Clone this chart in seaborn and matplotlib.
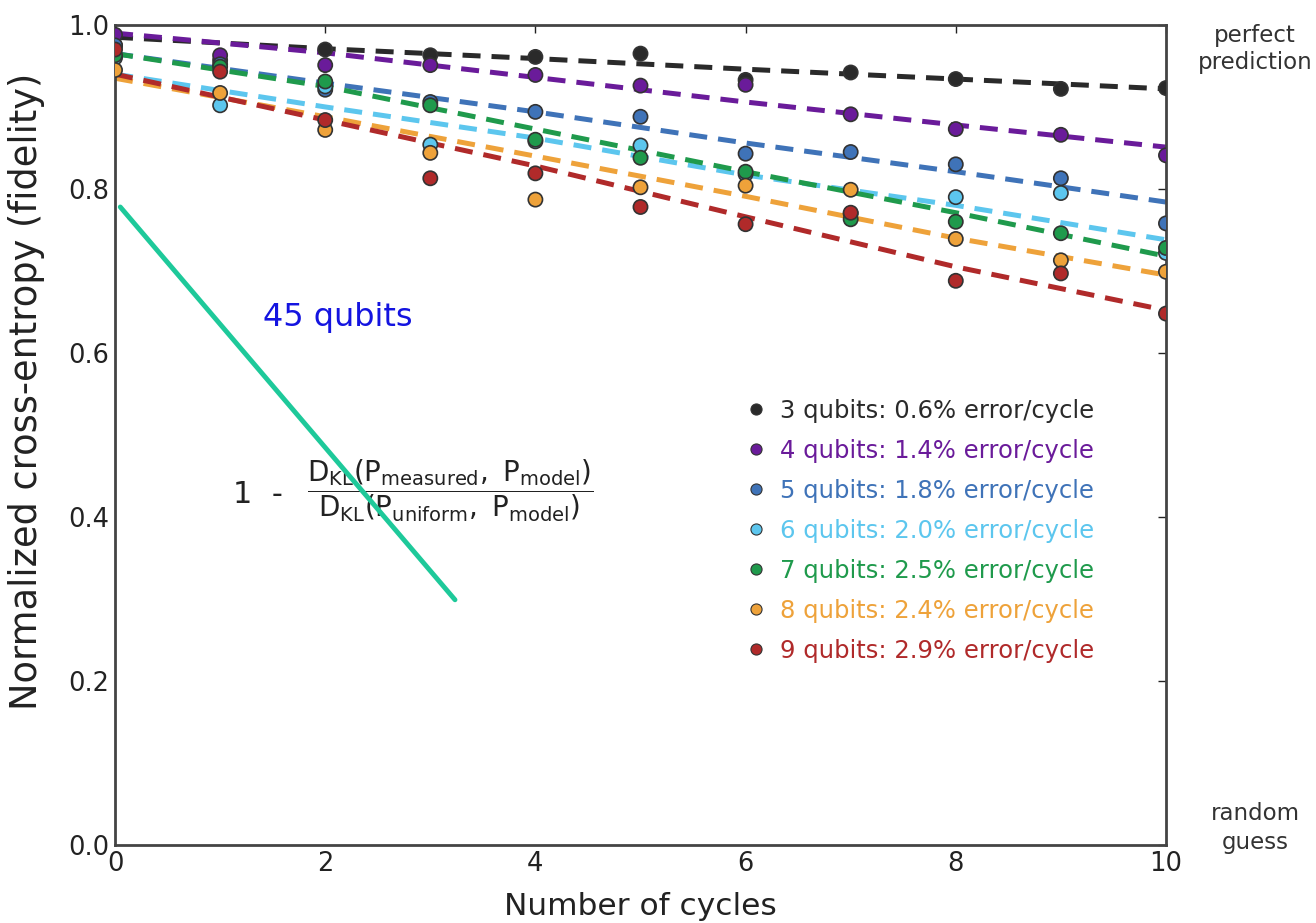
import numpy as np
import pandas as pd
import seaborn as sns
import matplotlib
matplotlib.use("Agg")
import matplotlib.pyplot as plt
from matplotlib.lines import Line2D

cycles = [0, 1, 2, 3, 4, 5, 6, 7, 8, 9, 10]
series_names = ["3 qubits: 0.6% error/cycle", "4 qubits: 1.4% error/cycle",
                "5 qubits: 1.8% error/cycle", "6 qubits: 2.0% error/cycle",
                "7 qubits: 2.5% error/cycle", "8 qubits: 2.4% error/cycle",
                "9 qubits: 2.9% error/cycle"]
colors = ["#2a2a2a", "#6a1b9a", "#3f73b8", "#5cc6ee", "#1f9a4c", "#eea23a", "#b02a2a"]

q3 = [0.975, 0.957, 0.970, 0.963, 0.961, 0.965, 0.933, 0.942, 0.934, 0.922, 0.923]
q4 = [0.988, 0.963, 0.951, 0.951, 0.939, 0.926, 0.927, 0.891, 0.873, 0.866, 0.841]
q5 = [0.975, 0.952, 0.921, 0.906, 0.894, 0.888, 0.843, 0.845, 0.830, 0.813, 0.758]
q6 = [0.960, 0.902, 0.925, 0.854, 0.858, 0.853, 0.818, 0.770, 0.790, 0.795, 0.722]
q7 = [0.963, 0.949, 0.931, 0.902, 0.860, 0.838, 0.821, 0.763, 0.760, 0.746, 0.728]
q8 = [0.945, 0.917, 0.872, 0.844, 0.787, 0.802, 0.804, 0.799, 0.739, 0.713, 0.699]
q9 = [0.970, 0.943, 0.884, 0.813, 0.819, 0.778, 0.757, 0.771, 0.688, 0.697, 0.648]
points = [q3, q4, q5, q6, q7, q8, q9]

fit_cycles = [0, 2, 4, 6, 8, 10]
f3 = [0.985, 0.971, 0.959, 0.946, 0.934, 0.922]
f4 = [0.990, 0.966, 0.936, 0.906, 0.878, 0.851]
f5 = [0.965, 0.929, 0.894, 0.856, 0.821, 0.784]
f6 = [0.940, 0.900, 0.862, 0.817, 0.780, 0.738]
f7 = [0.965, 0.925, 0.873, 0.821, 0.771, 0.718]
f8 = [0.935, 0.888, 0.840, 0.791, 0.740, 0.695]
f9 = [0.940, 0.884, 0.828, 0.766, 0.705, 0.652]
fits = [f3, f4, f5, f6, f7, f8, f9]

y_ticks = [0.0, 0.2, 0.4, 0.6, 0.8, 1.0]
x_ticks = [0, 2, 4, 6, 8, 10]

pts_df = pd.DataFrame([(c, n, v) for n, vals in zip(series_names, points)
                       for c, v in zip(cycles, vals)], columns=["cycle", "series", "fid"])
fit_df = pd.DataFrame([(c, n, v) for n, vals in zip(series_names, fits)
                       for c, v in zip(fit_cycles, vals)], columns=["cycle", "series", "fid"])
palette = dict(zip(series_names, colors))

sns.set_style("white")
plt.rcParams["font.family"] = ["DejaVu Sans"]
plt.rcParams["mathtext.fontset"] = "dejavusans"

fig = plt.figure(figsize=(13.16, 9.23), dpi=100)
ax = fig.add_axes([0.0874, 0.0845, 0.7986, 0.8885])

sns.lineplot(data=fit_df, x="cycle", y="fid", hue="series", palette=palette,
             ax=ax, legend=False, linewidth=3.6, zorder=2)
for line in ax.get_lines():
    line.set_dashes((3.6, 2.2))
sns.scatterplot(data=pts_df, x="cycle", y="fid", hue="series", palette=palette,
                ax=ax, legend=False, s=105, edgecolor="#333333", linewidth=1.2, zorder=3)

ax.set_xlim(0, 10)
ax.set_ylim(0, 1.0)
ax.set_xticks(x_ticks)
ax.set_yticks(y_ticks)
ax.set_yticklabels([f"{t:.1f}" for t in y_ticks])
ax.tick_params(direction="in", length=6, width=1, colors="#222222", labelsize=18.5,
               top=True, right=True, pad=4)
for sp in ax.spines.values():
    sp.set_color("#444444")
    sp.set_linewidth(2)
ax.set_xlabel("Number of cycles", fontsize=22.5, color="#222222")
ax.set_ylabel("Normalized cross-entropy (fidelity)", fontsize=26.5, color="#222222")
ax.xaxis.set_label_coords(0.4995, -0.057)
ax.yaxis.set_label_coords(-0.084, 0.553)
ax.yaxis.label.set_va("center")

handles = [Line2D([], [], marker="o", linestyle="none", markersize=8,
                  markerfacecolor=c, markeredgecolor="#333333", markeredgewidth=0.8)
           for c in colors]
leg = ax.legend(handles, series_names, loc="upper left", bbox_to_anchor=(0.580, 0.571),
                frameon=False, fontsize=17.5, labelspacing=0.66, handlelength=0.8,
                handletextpad=0.6, labelcolor=colors)

fig.text(0.9536, 0.947, "perfect\nprediction", ha="center", va="center",
         fontsize=16.5, color="#333333", linespacing=1.25)
fig.text(0.9536, 0.103, "random\nguess", ha="center", va="center",
         fontsize=16.5, color="#333333", linespacing=1.3)

ax.text(1.41, 0.643, "45 qubits", color="#1414e0", fontsize=23, ha="left", va="center")
ax.text(1.12, 0.427, "1  -", fontsize=22, color="#222222", ha="left", va="center")
ax.text(3.19, 0.432, r"$\dfrac{\mathrm{D_{KL}(P_{measured},\ P_{model})}}{\mathrm{D_{KL}(P_{uniform},\ P_{model})}}$",
        fontsize=20, color="#222222", ha="center", va="center")
ax.plot([0.05, 3.235], [0.778, 0.299], color="#1ec99a", linewidth=3.5, zorder=5)

fig.savefig("out.png", dpi=100)
